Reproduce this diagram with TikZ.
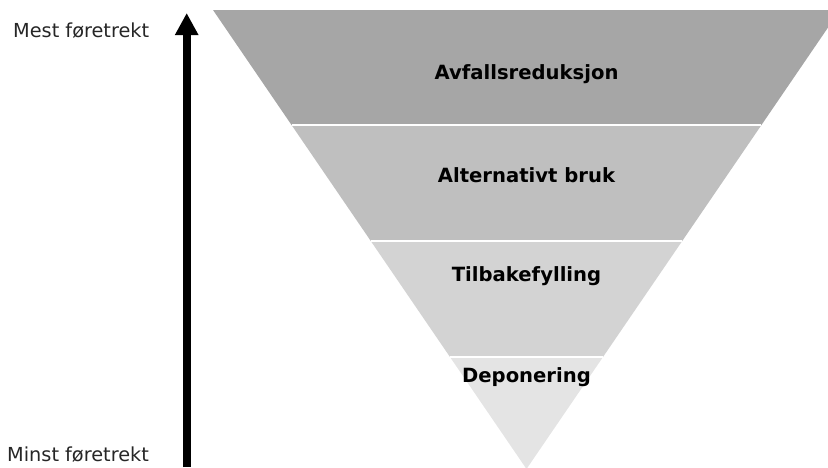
\documentclass[tikz,border=0pt]{standalone}
\usepackage{fontspec}
\setmainfont{DejaVu Sans}
\usetikzlibrary{arrows.meta,calc}
\definecolor{bandA}{HTML}{A6A6A6}
\definecolor{bandB}{HTML}{BFBFBF}
\definecolor{bandC}{HTML}{D3D3D3}
\definecolor{bandD}{HTML}{E4E4E4}
\tikzset{
  level/.style={font=\fontsize{19.6}{23}\selectfont\bfseries, anchor=base, inner sep=0pt},
  side/.style={font=\fontsize{19.3}{23}\selectfont, anchor=base west, inner sep=0pt, text=black!85},
  divider/.style={draw=white, line width=2pt},
  scale arrow/.style={line width=8pt, -{Triangle[width=22pt,length=22pt]}}
}
\begin{document}
\begin{tikzpicture}[x=1pt,y=-1pt]
  \useasboundingbox (0,0) rectangle (828,467);
  \begin{scope}
    \clip (0,0) rectangle (828,467);
    % corners of the inverted triangle
    \coordinate (TL) at (213,10);
    \coordinate (TR) at (840,10);
    \coordinate (AP) at (526.5,469);
    % band boundaries along the two slanted sides
    \coordinate (L1) at ($(TL)!0.2505!(AP)$);
    \coordinate (R1) at ($(TR)!0.2505!(AP)$);
    \coordinate (L2) at ($(TL)!0.5033!(AP)$);
    \coordinate (R2) at ($(TR)!0.5033!(AP)$);
    \coordinate (L3) at ($(TL)!0.7560!(AP)$);
    \coordinate (R3) at ($(TR)!0.7560!(AP)$);
    % the four bands
    \fill[bandA] (TL) -- (TR) -- (R1) -- (L1) -- cycle;
    \fill[bandB] (L1) -- (R1) -- (R2) -- (L2) -- cycle;
    \fill[bandC] (L2) -- (R2) -- (R3) -- (L3) -- cycle;
    \fill[bandD] (L3) -- (R3) -- (AP) -- cycle;
    % white gaps between the bands
    \draw[divider] (L1) -- (R1);
    \draw[divider] (L2) -- (R2);
    \draw[divider] (L3) -- (R3);
  \end{scope}
  % band labels
  \node[level] (avfall) at (526.5,79) {Avfallsreduksjon};
  \node[level] (alt) at (526.5,182) {Alternativt bruk};
  \node[level] (tilb) at (526.5,281) {Tilbakefylling};
  \node[level] (depo) at (526.5,382) {Deponering};
  % preference scale
  \coordinate (low) at (186.7,467);
  \coordinate (high) at (186.7,13);
  \draw[scale arrow] (low) -- (high);
  \node[side] (most) at (13,37.3) {Mest føretrekt};
  \node[side] (least) at (7,461.7) {Minst føretrekt};
\end{tikzpicture}
\end{document}
